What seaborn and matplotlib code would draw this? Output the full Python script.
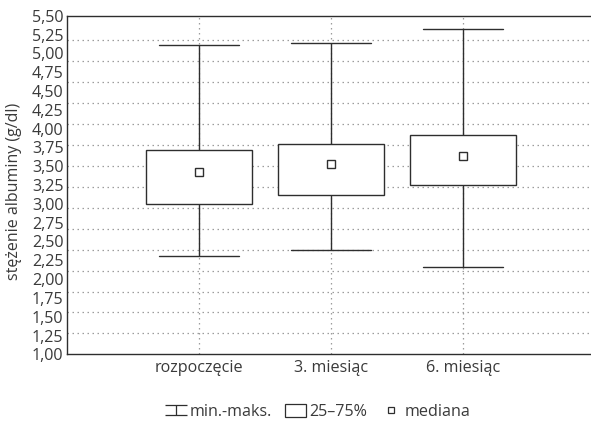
import numpy as np
import pandas as pd
import matplotlib
matplotlib.use("Agg")
import matplotlib.pyplot as plt
from matplotlib.lines import Line2D
from matplotlib.patches import Patch
from matplotlib.path import Path
from matplotlib.ticker import FixedLocator, FixedFormatter
import seaborn as sns

sns.set_style("white")
plt.rcParams['font.family'] = ['Open Sans', 'DejaVu Sans']
plt.rcParams['axes.unicode_minus'] = False

# Dane (g/dl)
groups = ['rozpoczęcie', '3. miesiąc', '6. miesiąc']
v_min = [2.31, 2.38, 2.16]
q25 = [3.00, 3.12, 3.25]
median = [3.42, 3.53, 3.63]
q75 = [3.71, 3.80, 3.91]
v_max = [5.11, 5.14, 5.32]
y_ticks = [1.00, 1.25, 1.50, 1.75, 2.00, 2.25, 2.50, 2.75, 3.00,
           3.25, 3.50, 3.75, 4.00, 4.25, 4.50, 4.75, 5.00, 5.25, 5.50]

# 5 punktów na grupę: min, Q1, mediana, Q3, max -> kwartyle wychodzą dokładnie
rows = []
for i, g in enumerate(groups):
    for v in (v_min[i], q25[i], median[i], q75[i], v_max[i]):
        rows.append({'grupa': g, 'wartosc': v})
df = pd.DataFrame(rows)

LINE = '#2e2e2e'
TEXT = '#3a3a3a'
GRID = '#9c9c9c'
FS = 11.6

fig = plt.figure(figsize=(5.91, 4.21), dpi=100)
ax = fig.add_axes([0.1134, 0.1584, 0.8934, 0.8043])

sns.boxplot(data=df, x='grupa', y='wartosc', order=groups, ax=ax,
            whis=(0, 100), width=0.81, color='white', linecolor=LINE,
            linewidth=1.0, capwidths=0.6, showfliers=False,
            medianprops={'visible': False}, zorder=3)

sns.pointplot(data=df, x='grupa', y='wartosc', order=groups, ax=ax,
              estimator='median', errorbar=None, linestyle='none',
              marker='s', markersize=6.3, markerfacecolor='white',
              markeredgecolor=LINE, markeredgewidth=1.0, color=LINE, zorder=5)

ax.set_xlim(-1, 3)
ax.set_ylim(1.0, 5.5)

# oś Y: etykiety co 0,25, z przecinkiem
ax.yaxis.set_major_locator(FixedLocator(y_ticks))
ax.yaxis.set_major_formatter(FixedFormatter([f"{v:.2f}".replace('.', ',') for v in y_ticks]))
# linie siatki (w oryginale gęstość nie pokrywa się z etykietami)
grid_step = 0.2782
ax.yaxis.set_minor_locator(FixedLocator(np.arange(1.0 + grid_step, 5.3, grid_step)))
ax.grid(False)
ax.yaxis.grid(True, which='minor', color=GRID, lw=0.9, ls=(0, (1.2, 2.8)))
ax.xaxis.grid(True, which='major', color=GRID, lw=0.9, ls=(0, (1.2, 2.8)))
ax.set_axisbelow(True)

ax.tick_params(axis='both', which='both', length=0, colors=TEXT, labelsize=FS)
ax.tick_params(axis='y', pad=2.5)
ax.tick_params(axis='x', pad=4)
ax.set_xlabel('')
ax.set_ylabel('stężenie albuminy (g/dl)', color=TEXT, fontsize=11.5)
ax.yaxis.set_label_coords(-0.086, 0.48)

for side in ['left', 'bottom', 'top']:
    ax.spines[side].set_color(LINE)
    ax.spines[side].set_linewidth(1.0)
ax.spines['right'].set_visible(False)

# legenda
whisk = Path([(-1, 0.47), (1, 0.47), (0, 0.47), (0, -0.47), (-1, -0.47), (1, -0.47)],
             [Path.MOVETO, Path.LINETO, Path.MOVETO, Path.LINETO, Path.MOVETO, Path.LINETO])
handles = [
    Line2D([], [], linestyle='none', marker=whisk, markersize=16.5,
           markeredgewidth=0.9, markeredgecolor=LINE, markerfacecolor='none'),
    Patch(facecolor='white', edgecolor=LINE, linewidth=0.9),
    Line2D([], [], linestyle='none', marker='s', markersize=5,
           markerfacecolor='white', markeredgecolor=LINE, markeredgewidth=0.9),
]
labels = ['min.-maks.', '25–75%', 'mediana']
leg = fig.legend(handles, labels, loc='center', bbox_to_anchor=(318 / 591, 9 / 421),
                 ncol=3, frameon=False, fontsize=FS, handlelength=1.3,
                 handleheight=0.8, handletextpad=0.2, columnspacing=0.8)
for t in leg.get_texts():
    t.set_color(TEXT)

plt.savefig('out.png', dpi=100)
